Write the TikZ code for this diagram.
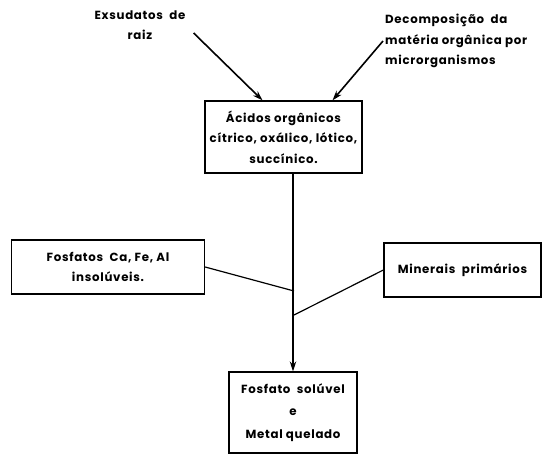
\documentclass[tikz,border=0pt]{standalone}
\usepackage{fontspec}
\setmainfont{Poppins}[LetterSpace=6]
\usetikzlibrary{arrows.meta}

\begin{document}
\begin{tikzpicture}[
  x=1pt, y=-1pt,
  font=\fontsize{11.8}{20.5}\selectfont\bfseries,
  caixa/.style={draw=black, line width=1.3pt, align=center, inner sep=2pt},
  rotulo/.style={align=center, inner sep=2pt},
  seta/.style={draw=black, line width=1.6pt, -{Stealth[length=10pt,width=6.5pt]}},
  ligacao/.style={draw=black, line width=1.2pt}
]
\useasboundingbox (0,0) rectangle (542,456);
% origens
\node[rotulo] (exsudatos) at (140,25) {Exsudatos\ \ de\\raiz};
\node[rotulo, anchor=west, align=left] (decomp) at (383,41) {Decomposição\ \ da\\matéria orgânica por\\microrganismos};
% caixas
\node[caixa, minimum width=157pt, minimum height=72pt] (acidos) at (283.5,137)
  {Ácidos orgânicos\\cítrico, oxálico, lótico,\\succínico.};
\node[caixa, minimum width=193pt, minimum height=54pt] (fosfatos) at (108,267)
  {Fosfatos\ \ Ca, Fe, Al\\insolúveis.};
\node[caixa, minimum width=157pt, minimum height=54pt] (minerais) at (462.5,270)
  {Minerais\ \ primários};
\node[caixa, minimum width=128pt, minimum height=81pt, font=\fontsize{11.8}{22.5}\selectfont\bfseries] (soluvel) at (293,412.5)
  {Fosfato\ \ solúvel\\e\\Metal quelado};
% junções na linha vertical
\coordinate (j1) at (294,291);
\coordinate (j2) at (294,315);
\draw[seta] ([shift={(6,8)}]exsudatos.east) -- ([xshift=-21pt]acidos.north);
\draw[seta] (decomp.west) -- ([xshift=49pt]acidos.north);
\draw[seta] (acidos.south -| soluvel.north) -- (soluvel.north);
\draw[ligacao] (fosfatos.east) -- (j1);
\draw[ligacao] (minerais.west) -- (j2);
\end{tikzpicture}
\end{document}
